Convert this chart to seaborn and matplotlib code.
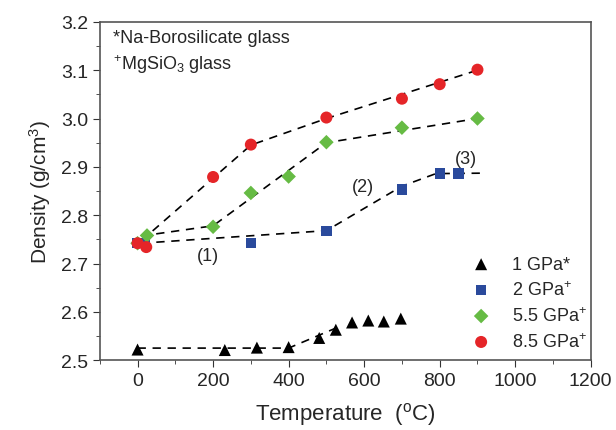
import pandas as pd
import numpy as np
import matplotlib.pyplot as plt
import seaborn as sns
from matplotlib.ticker import MultipleLocator

# measured points
t_1gpa = [0, 231, 316, 400, 481, 525, 568, 611, 652, 697]
d_1gpa = [2.522, 2.521, 2.526, 2.527, 2.546, 2.563, 2.578, 2.582, 2.580, 2.586]
t_2gpa = [0, 20, 300, 500, 700, 800, 850]
d_2gpa = [2.742, 2.742, 2.743, 2.767, 2.853, 2.886, 2.886]
t_55gpa = [0, 25, 200, 300, 400, 500, 700, 900]
d_55gpa = [2.742, 2.758, 2.776, 2.846, 2.880, 2.951, 2.981, 3.000]
t_85gpa = [0, 23, 200, 300, 500, 700, 800, 900]
d_85gpa = [2.742, 2.734, 2.879, 2.946, 3.002, 3.041, 3.071, 3.101]

# guide-to-the-eye dashed lines
guide_t_1 = [0, 400, 530]
guide_d_1 = [2.525, 2.525, 2.568]
guide_t_2 = [10, 500, 700, 790, 920]
guide_d_2 = [2.742, 2.768, 2.860, 2.886, 2.887]
guide_t_55 = [10, 200, 500, 900]
guide_d_55 = [2.757, 2.778, 2.950, 3.000]
guide_t_85 = [10, 300, 500, 900]
guide_d_85 = [2.747, 2.945, 3.000, 3.100]

labels = ["1 GPa*", "2 GPa$^{+}$", "5.5 GPa$^{+}$", "8.5 GPa$^{+}$"]
colors = ["black", "#2a4a9c", "#66bb44", "#e52528"]
markers = ["^", "s", "D", "o"]
sizes = [75, 55, 55, 75]

sns.set_style("ticks")
plt.rcParams["font.family"] = ["Liberation Sans", "DejaVu Sans"]
plt.rcParams["mathtext.fontset"] = "custom"
plt.rcParams["mathtext.rm"] = "Liberation Sans"
plt.rcParams["mathtext.it"] = "Liberation Sans:italic"

fig, ax = plt.subplots(figsize=(6.16, 4.31), dpi=100)
fig.subplots_adjust(left=0.162, right=0.959, bottom=0.162, top=0.947)

for gt, gd in [(guide_t_1, guide_d_1), (guide_t_2, guide_d_2),
               (guide_t_55, guide_d_55), (guide_t_85, guide_d_85)]:
    ax.plot(gt, gd, color="black", linestyle=(0, (5, 4)), linewidth=1.2, zorder=1)

# draw in order so red sits on top at T=0
series = [(t_1gpa, d_1gpa), (t_2gpa, d_2gpa), (t_55gpa, d_55gpa), (t_85gpa, d_85gpa)]
for (t, d), lab, c, m, s in zip(series, labels, colors, markers, sizes):
    df = pd.DataFrame({"Temperature": t, "Density": d})
    sns.scatterplot(data=df, x="Temperature", y="Density", ax=ax, color=c,
                    marker=m, s=s, edgecolor="none", label=lab, zorder=3)

ax.text(186, 2.716, "(1)", fontsize=13, ha="center", va="center")
ax.text(598, 2.860, "(2)", fontsize=13, ha="center", va="center")
ax.text(870, 2.918, "(3)", fontsize=13, ha="center", va="center")
ax.text(-66, 3.168, "*Na-Borosilicate glass", fontsize=13, va="center")
ax.text(-66, 3.113, "$^{+}$MgSiO$_{3}$ glass", fontsize=13, va="center")

ax.set_xlim(-100, 1200)
ax.set_ylim(2.5, 3.2)
ax.xaxis.set_major_locator(MultipleLocator(200))
ax.xaxis.set_minor_locator(MultipleLocator(100))
ax.yaxis.set_major_locator(MultipleLocator(0.1))
ax.yaxis.set_minor_locator(MultipleLocator(0.05))
ax.yaxis.set_major_formatter(plt.FormatStrFormatter("%.1f"))
ax.tick_params(which="major", direction="out", length=5, labelsize=14, color="#333333")
ax.tick_params(which="minor", direction="out", length=3, color="#333333")
for sp in ax.spines.values():
    sp.set_color("#555555")
    sp.set_linewidth(1.2)

ax.set_xlabel("Temperature  ($^{\\mathrm{o}}$C)", fontsize=16, labelpad=8)
ax.set_ylabel("Density (g/cm$^{3}$)", fontsize=15, labelpad=6)

ax.legend(loc="lower right", frameon=False, fontsize=13, handletextpad=0.7,
          labelspacing=0.4, bbox_to_anchor=(1.025, -0.02))

plt.savefig("out.png", dpi=100)
